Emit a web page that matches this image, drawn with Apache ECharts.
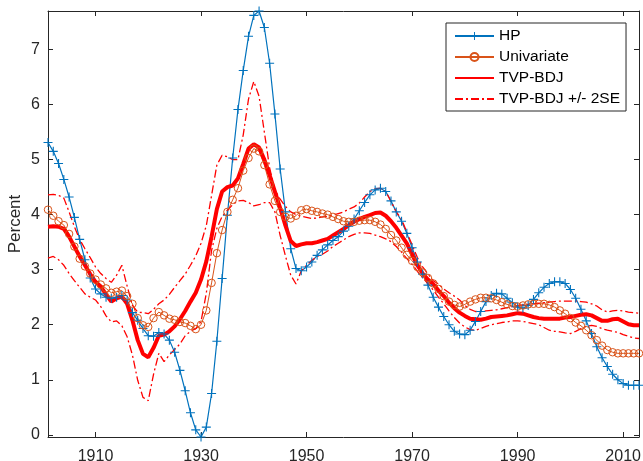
<!DOCTYPE html>
<html>
<head>
<meta charset="utf-8">
<script src="https://cdn.jsdelivr.net/npm/echarts@6/dist/echarts.min.js"></script>
<style>
  html, body { margin: 0; padding: 0; background: #ffffff; }
  #chart { width: 643px; height: 461px; }
</style>
</head>
<body>
<div id="chart"></div>
<script>
// Annual trend estimates, 1901-2013 (percent)
const firstYear = 1901;
const lastYear = 2013;
const yearTicks = [1910, 1930, 1950, 1970, 1990, 2010];
const percentTicks = [0, 1, 2, 3, 4, 5, 6, 7];
const seriesNames = ['HP', 'Univariate', 'TVP-BDJ', 'TVP-BDJ +/- 2SE'];

const hp = [
  5.31, 5.15, 4.93, 4.64, 4.32, 3.95, 3.55, 3.18, 2.85, 2.65,
  2.56, 2.50, 2.48, 2.50, 2.53, 2.45, 2.22, 2.08, 1.93, 1.80,
  1.79, 1.86, 1.83, 1.72, 1.50, 1.17, 0.80, 0.40, 0.09, -0.04,
  0.14, 0.75, 1.70, 2.84, 3.99, 5.03, 5.91, 6.62, 7.24, 7.62,
  7.70, 7.40, 6.75, 5.83, 4.83, 4.05, 3.38, 3.02, 2.98, 3.05,
  3.14, 3.26, 3.36, 3.45, 3.53, 3.60, 3.70, 3.79, 3.92, 4.07,
  4.22, 4.36, 4.45, 4.48, 4.42, 4.25, 4.05, 3.88, 3.66, 3.40,
  3.14, 2.92, 2.72, 2.50, 2.32, 2.15, 2.00, 1.88, 1.83, 1.82,
  1.90, 2.06, 2.24, 2.42, 2.53, 2.57, 2.56, 2.48, 2.40, 2.32,
  2.30, 2.35, 2.46, 2.58, 2.68, 2.75, 2.78, 2.78, 2.75, 2.64,
  2.48, 2.28, 2.07, 1.84, 1.60, 1.40, 1.24, 1.10, 1.00, 0.93,
  0.90, 0.90, 0.90
];

const univariate = [
  4.09, 3.98, 3.88, 3.81, 3.65, 3.42, 3.20, 3.06, 2.93, 2.82,
  2.73, 2.66, 2.58, 2.60, 2.62, 2.52, 2.38, 2.12, 1.99, 1.96,
  2.12, 2.23, 2.17, 2.11, 2.09, 2.05, 2.03, 1.98, 1.92, 2.00,
  2.26, 2.76, 3.30, 3.72, 4.05, 4.27, 4.48, 4.80, 5.03, 5.20,
  5.15, 4.90, 4.55, 4.25, 4.05, 3.96, 3.93, 3.98, 4.08, 4.10,
  4.07, 4.05, 4.02, 4.00, 3.96, 3.92, 3.88, 3.87, 3.87, 3.89,
  3.90, 3.90, 3.87, 3.82, 3.74, 3.63, 3.53, 3.40, 3.27, 3.16,
  3.05, 2.95, 2.85, 2.75, 2.65, 2.52, 2.42, 2.36, 2.33, 2.37,
  2.42, 2.46, 2.49, 2.49, 2.48, 2.45, 2.41, 2.37, 2.34, 2.33,
  2.35, 2.37, 2.38, 2.38, 2.38, 2.36, 2.32, 2.26, 2.20, 2.12,
  2.04, 1.98, 1.90, 1.81, 1.72, 1.62, 1.54, 1.50, 1.48, 1.48,
  1.48, 1.48, 1.48
];

const tvpBdj = [
  3.78, 3.79, 3.78, 3.74, 3.60, 3.42, 3.24, 3.08, 2.92, 2.78,
  2.69, 2.55, 2.42, 2.48, 2.51, 2.38, 2.08, 1.72, 1.47, 1.41,
  1.58, 1.80, 1.82, 1.88, 1.97, 2.10, 2.25, 2.42, 2.58, 2.82,
  3.15, 3.60, 4.10, 4.42, 4.50, 4.53, 4.66, 4.92, 5.20, 5.28,
  5.22, 5.00, 4.72, 4.42, 4.12, 3.80, 3.52, 3.43, 3.46, 3.48,
  3.48, 3.50, 3.53, 3.56, 3.62, 3.68, 3.74, 3.81, 3.87, 3.92,
  3.96, 3.99, 4.03, 4.04, 3.98, 3.88, 3.76, 3.62, 3.48, 3.28,
  3.08, 2.93, 2.82, 2.74, 2.62, 2.52, 2.40, 2.30, 2.22, 2.16,
  2.11, 2.10, 2.09, 2.11, 2.14, 2.15, 2.16, 2.17, 2.19, 2.21,
  2.20, 2.17, 2.14, 2.12, 2.11, 2.11, 2.11, 2.11, 2.13, 2.14,
  2.16, 2.18, 2.19, 2.17, 2.12, 2.07, 2.07, 2.10, 2.11, 2.06,
  2.01, 1.99, 1.99
];

const tvpUpper = [
  4.36, 4.37, 4.35, 4.30, 4.05, 3.78, 3.55, 3.38, 3.22, 3.05,
  2.93, 2.84, 2.77, 2.90, 3.08, 2.70, 2.35, 2.23, 2.22, 2.20,
  2.28, 2.38, 2.45, 2.55, 2.68, 2.80, 2.92, 3.08, 3.25, 3.48,
  3.80, 4.35, 4.90, 5.08, 5.05, 5.00, 5.00, 5.45, 6.10, 6.42,
  6.15, 5.50, 4.85, 4.45, 4.28, 4.15, 4.05, 4.00, 3.97, 3.95,
  3.93, 3.94, 3.96, 3.97, 3.99, 4.02, 4.05, 4.10, 4.14, 4.21,
  4.32, 4.42, 4.47, 4.48, 4.42, 4.24, 4.05, 3.92, 3.68, 3.45,
  3.22, 3.05, 2.92, 2.80, 2.74, 2.65, 2.58, 2.52, 2.45, 2.35,
  2.28, 2.24, 2.24, 2.25, 2.26, 2.27, 2.29, 2.31, 2.33, 2.35,
  2.36, 2.37, 2.38, 2.39, 2.40, 2.41, 2.42, 2.43, 2.43, 2.43,
  2.43, 2.42, 2.41, 2.38, 2.34, 2.27, 2.23, 2.25, 2.26, 2.25,
  2.23, 2.22, 2.21
];

const tvpLower = [
  3.21, 3.24, 3.18, 3.08, 2.93, 2.80, 2.68, 2.56, 2.50, 2.45,
  2.33, 2.16, 2.05, 2.07, 1.98, 1.78, 1.45, 0.99, 0.68, 0.62,
  1.10, 1.48, 1.33, 1.45, 1.55, 1.65, 1.80, 1.88, 1.93, 2.06,
  2.57, 3.35, 3.75, 3.97, 4.08, 4.18, 4.25, 4.26, 4.22, 4.16,
  4.18, 4.22, 4.22, 4.05, 3.62, 3.25, 2.90, 2.74, 2.98, 3.08,
  3.17, 3.24, 3.28, 3.34, 3.42, 3.48, 3.54, 3.60, 3.64, 3.67,
  3.67, 3.66, 3.63, 3.60, 3.56, 3.51, 3.42, 3.32, 3.20, 3.10,
  2.97, 2.85, 2.75, 2.63, 2.50, 2.38, 2.25, 2.13, 2.03, 1.96,
  1.91, 1.90, 1.93, 1.97, 2.00, 2.02, 2.04, 2.05, 2.07, 2.07,
  2.06, 2.04, 2.02, 2.00, 1.95, 1.90, 1.88, 1.87, 1.85, 1.84,
  1.88, 1.93, 1.97, 1.99, 1.97, 1.93, 1.90, 1.88, 1.86, 1.82,
  1.79, 1.76, 1.75
];

const years = [];
for (let y = firstYear; y <= lastYear; y++) years.push(y);
const toPairs = vals => vals.map((v, i) => [years[i], v]);

// Axis limits hug the data range
const yMin = Math.min(...hp, ...univariate, ...tvpLower);
const yMax = Math.max(...hp, ...tvpUpper);

const FONT = '"Liberation Sans", Arial, Helvetica, sans-serif';
const AXIS = '#262626';
const BLUE = '#0072BD';
const ORANGE = '#D95319';
const RED = '#FF0000';
const plusSymbol = 'path://M-0.12,-1H0.12V1H-0.12Z M-1,-0.12H1V0.12H-1Z';
const dashDot = [8, 3, 2, 3];
const plain = v => String(v);

const baseX = {
  type: 'value', min: firstYear, max: lastYear,
  splitLine: { show: false },
  axisLine: { show: true, onZero: false, lineStyle: { color: AXIS, width: 1 } },
  axisTick: { show: true, inside: true, length: 5, customValues: yearTicks, lineStyle: { color: AXIS } }
};
const baseY = {
  type: 'value', min: yMin, max: yMax,
  splitLine: { show: false },
  axisLine: { show: true, onZero: false, lineStyle: { color: AXIS, width: 1 } },
  axisTick: { show: true, inside: true, length: 5, customValues: percentTicks, lineStyle: { color: AXIS } }
};

const chart = echarts.init(document.getElementById('chart'), null, { renderer: 'canvas' });
chart.setOption({
  animation: false,
  backgroundColor: '#ffffff',
  grid: { left: 48, right: 4, top: 11, bottom: 24, containLabel: false, outerBoundsMode: 'none' },
  xAxis: [
    Object.assign({}, baseX, {
      position: 'bottom',
      axisLabel: { show: true, customValues: yearTicks, formatter: plain, margin: 12, color: AXIS, fontSize: 16, fontFamily: FONT }
    }),
    Object.assign({}, baseX, { position: 'top', axisLabel: { show: false } })
  ],
  yAxis: [
    Object.assign({}, baseY, {
      position: 'left',
      name: 'Percent', nameLocation: 'middle', nameGap: 24, nameRotate: 90, nameMoveOverlap: false,
      nameTextStyle: { color: AXIS, fontSize: 17, fontFamily: FONT },
      axisLabel: { show: true, customValues: percentTicks, formatter: plain, margin: 8, color: AXIS, fontSize: 16, fontFamily: FONT }
    }),
    Object.assign({}, baseY, { position: 'right', axisLabel: { show: false } })
  ],
  legend: {
    orient: 'vertical', left: 446, top: 23,
    data: [
      { name: seriesNames[0] },
      { name: seriesNames[1] },
      { name: seriesNames[2], itemStyle: { opacity: 0 } },
      { name: seriesNames[3], itemStyle: { opacity: 0 } }
    ],
    backgroundColor: '#ffffff', borderColor: AXIS, borderWidth: 1,
    padding: [5, 6, 4, 8],
    itemWidth: 39, itemHeight: 10, itemGap: 5,
    textStyle: { color: '#000000', fontSize: 15.5, fontFamily: FONT, lineHeight: 15.5 }
  },
  series: [
    {
      name: seriesNames[0], type: 'line', data: toPairs(hp),
      symbol: plusSymbol, symbolSize: 9, showAllSymbol: true,
      lineStyle: { color: BLUE, width: 1.2 },
      itemStyle: { color: BLUE }
    },
    {
      name: seriesNames[1], type: 'line', data: toPairs(univariate),
      symbol: 'circle', symbolSize: 7.5, showAllSymbol: true,
      lineStyle: { color: ORANGE, width: 1 },
      itemStyle: { color: 'rgba(255,255,255,0)', borderColor: ORANGE, borderWidth: 1 }
    },
    {
      name: seriesNames[2], type: 'line', data: toPairs(tvpBdj),
      symbol: 'none',
      lineStyle: { color: RED, width: 4 },
      itemStyle: { color: RED }
    },
    {
      name: seriesNames[3], type: 'line', data: toPairs(tvpUpper),
      symbol: 'none',
      lineStyle: { color: RED, width: 1.3, type: dashDot },
      itemStyle: { color: RED }
    },
    {
      name: seriesNames[3], type: 'line', data: toPairs(tvpLower),
      symbol: 'none',
      lineStyle: { color: RED, width: 1.3, type: dashDot },
      itemStyle: { color: RED }
    }
  ]
});
</script>
</body>
</html>
